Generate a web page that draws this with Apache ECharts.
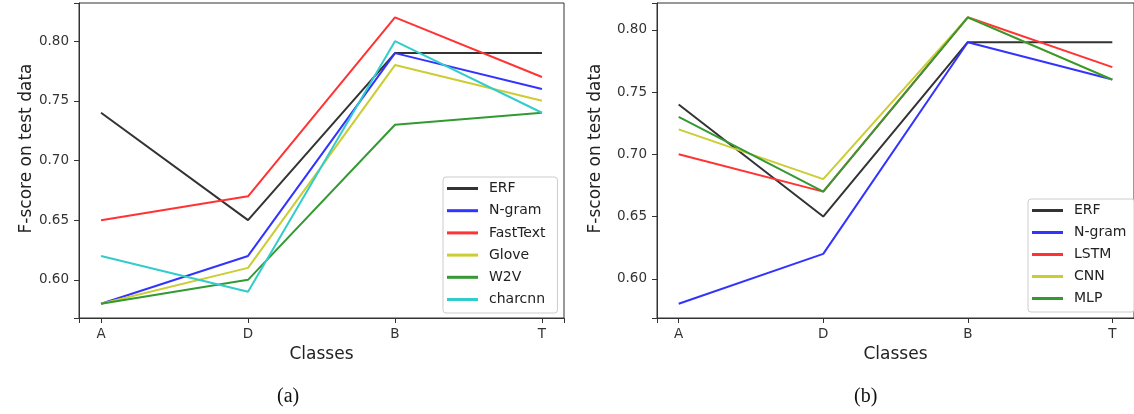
<!DOCTYPE html>
<html>
<head>
<meta charset="utf-8">
<script src="https://cdn.jsdelivr.net/npm/echarts@6/dist/echarts.min.js"></script>
<style>
html,body{margin:0;padding:0;background:#fff;}
#main{width:1134px;height:414px;}
</style>
</head>
<body>
<div id="main"></div>
<script>
// ---- data ----
var classes = ['A', 'D', 'B', 'T'];
var xTicks = [0, 1, 2, 3];
var yTicks = [0.60, 0.65, 0.70, 0.75, 0.80];

// panel (a)
var aNames = ['ERF', 'N-gram', 'FastText', 'Glove', 'W2V', 'charcnn'];
var aERF      = [0.74, 0.65, 0.79, 0.79];
var aNgram    = [0.58, 0.62, 0.79, 0.76];
var aFastText = [0.65, 0.67, 0.82, 0.77];
var aGlove    = [0.58, 0.61, 0.78, 0.75];
var aW2V      = [0.58, 0.60, 0.73, 0.74];
var aCharcnn  = [0.62, 0.59, 0.80, 0.74];

// panel (b)
var bNames = ['ERF', 'N-gram', 'LSTM', 'CNN', 'MLP'];
var bERF   = [0.74, 0.65, 0.79, 0.79];
var bNgram = [0.58, 0.62, 0.79, 0.76];
var bLSTM  = [0.70, 0.67, 0.81, 0.77];
var bCNN   = [0.72, 0.68, 0.81, 0.76];
var bMLP   = [0.73, 0.67, 0.81, 0.76];

var colors = {
  'ERF': '#333333', 'N-gram': '#3333ff', 'FastText': '#ff3333', 'LSTM': '#ff3333',
  'Glove': '#cccc33', 'CNN': '#cccc33', 'W2V': '#339933', 'MLP': '#339933', 'charcnn': '#33cccc'
};

function pts(vals) { return vals.map(function (v, i) { return [i, v]; }); }
function line(name, vals, idx) {
  return {
    name: name, type: 'line', xAxisIndex: idx, yAxisIndex: idx,
    data: pts(vals), showSymbol: false, symbol: 'none', animation: false,
    lineStyle: { color: colors[name], width: 2 }, itemStyle: { color: colors[name] }
  };
}

var FONT = 'DejaVu Sans';
var hiddenSplit = { show: true, lineStyle: { color: 'rgba(0,0,0,0)', width: 1 } };
function xAxis(idx) {
  return {
    type: 'value', gridIndex: idx, min: -0.15, max: 3.15, splitNumber: 3,
    splitLine: hiddenSplit,
    axisLine: { show: true, onZero: false, lineStyle: { color: '#333', width: 1 } },
    axisTick: { show: true, length: 5, lineStyle: { color: '#333' } },
    axisLabel: { customValues: xTicks, margin: 9, color: '#333', fontFamily: FONT, fontSize: 13.5,
      formatter: function (v) { return classes[Math.round(v)]; } },
    name: 'Classes', nameLocation: 'middle', nameGap: 28,
    nameTextStyle: { fontFamily: FONT, fontSize: 17, color: '#222' }
  };
}
function yAxis(idx, mn, mx, gap) {
  return {
    type: 'value', gridIndex: idx, min: mn, max: mx,
    splitLine: hiddenSplit,
    axisLine: { show: true, onZero: false, lineStyle: { color: '#333', width: 1 } },
    axisTick: { show: true, length: 5, lineStyle: { color: '#333' } },
    axisLabel: { customValues: yTicks, margin: 10, color: '#333', fontFamily: FONT, fontSize: 13.5,
      formatter: function (v) { return v.toFixed(2); } },
    name: 'F-score on test data', nameLocation: 'middle', nameGap: gap,
    nameTextStyle: { fontFamily: FONT, fontSize: 17, color: '#222', padding: [0, 0, 0, 24] }
  };
}
function legend(names, left, top, pad, gap) {
  return {
    data: names, orient: 'vertical', left: left, top: top, padding: pad, itemGap: gap,
    icon: 'rect', itemWidth: 31, itemHeight: 3,
    borderColor: '#cccccc', borderWidth: 1, borderRadius: 3, backgroundColor: 'rgba(255,255,255,0.8)',
    textStyle: { fontFamily: FONT, fontSize: 14, color: '#222', lineHeight: 15, padding: [0, 0, 0, 6] },
    selectedMode: false
  };
}

var series = [
  line('ERF', aERF, 0), line('N-gram', aNgram, 0), line('FastText', aFastText, 0),
  line('Glove', aGlove, 0), line('W2V', aW2V, 0), line('charcnn', aCharcnn, 0),
  line('ERF', bERF, 1), line('N-gram', bNgram, 1), line('LSTM', bLSTM, 1),
  line('CNN', bCNN, 1), line('MLP', bMLP, 1)
];

var chart = echarts.init(document.getElementById('main'), null, { renderer: 'canvas' });
chart.setOption({
  animation: false,
  backgroundColor: '#ffffff',
  grid: [
    { left: 79, top: 3, width: 485, height: 315, show: true, borderColor: '#333', borderWidth: 1, backgroundColor: 'transparent' },
    { left: 657, top: 3, width: 485, height: 315, show: true, borderColor: '#333', borderWidth: 1, backgroundColor: 'transparent' }
  ],
  xAxis: [xAxis(0), xAxis(1)],
  yAxis: [yAxis(0, 0.568, 0.832, 43), yAxis(1, 0.5685, 0.8215, 53)],
  legend: [
    legend(aNames, 443, 177, [4, 12, 6, 4], 7.2),
    legend(bNames, 1028, 199, [4, 8, 6, 4], 7)
  ],
  series: series,
  graphic: [
    { type: 'text', left: 277, top: 387, style: { text: '(a)', font: '20px "Liberation Serif"', fill: '#111' } },
    { type: 'text', left: 854, top: 387, style: { text: '(b)', font: '20px "Liberation Serif"', fill: '#111' } }
  ]
});
</script>
</body>
</html>
